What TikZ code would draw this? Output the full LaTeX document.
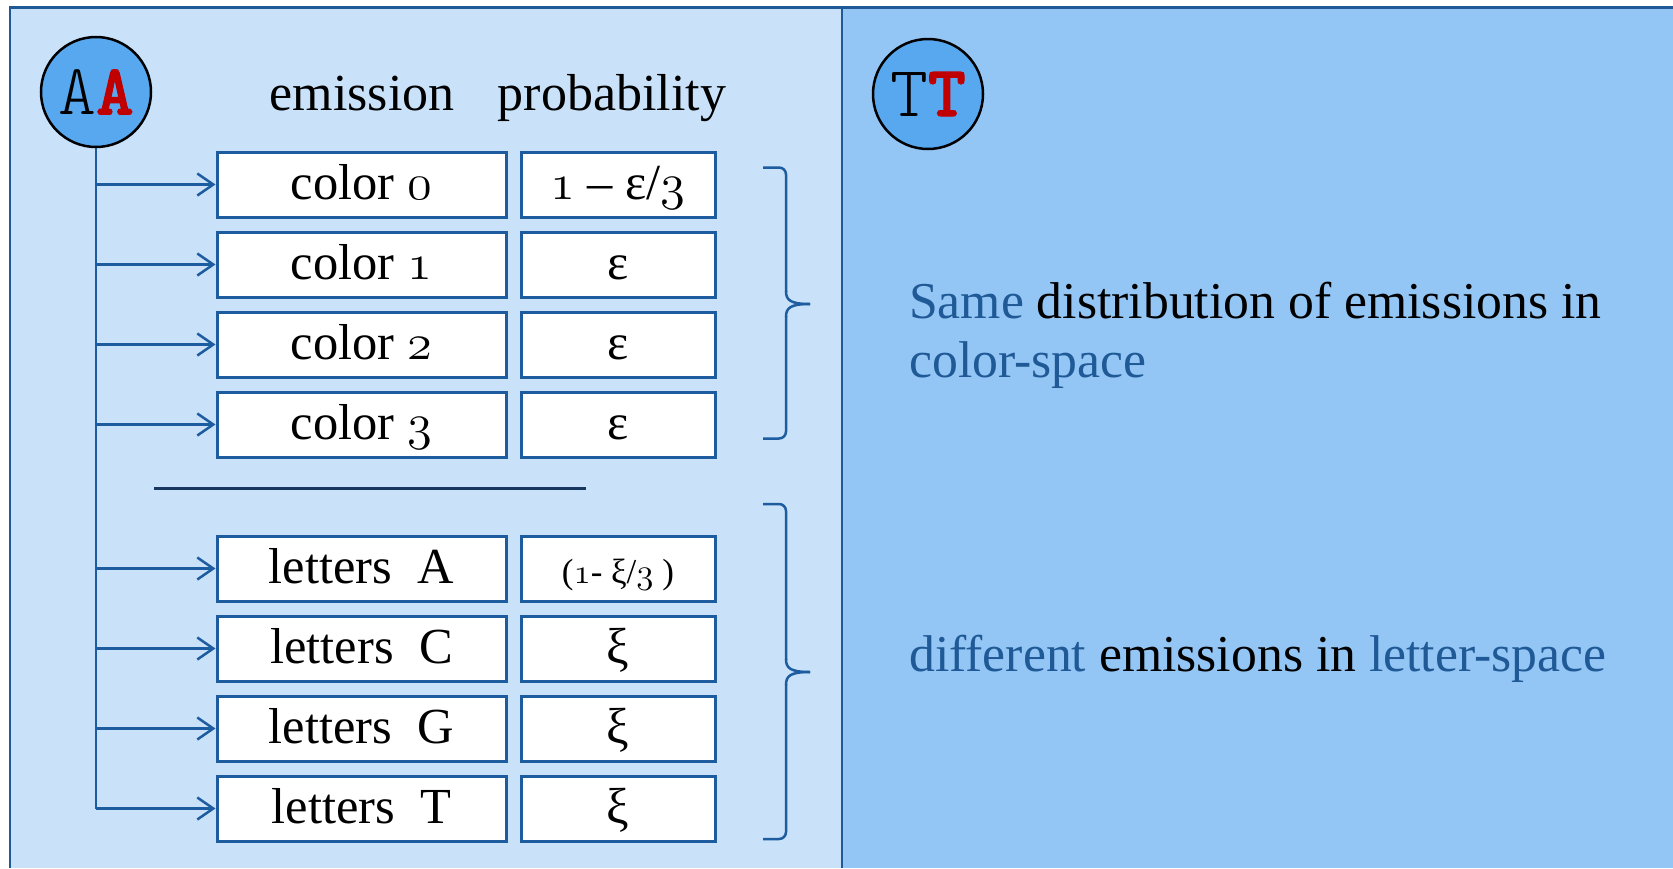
\documentclass[tikz,border=0pt]{standalone}
\usepackage{fix-cm}
\usepackage{fontspec}
\setmainfont{Liberation Serif}
\newfontfamily\aamono{lmmonolt10-regular.otf}
\newfontfamily\aamonob{lmmonolt10-bold.otf}[FakeBold=1.5]
\usetikzlibrary{arrows.meta}
\definecolor{leftbg}{RGB}{201,226,249}
\definecolor{rightbg}{RGB}{147,197,245}
\definecolor{circfill}{RGB}{88,168,240}
\definecolor{framecol}{RGB}{31,90,150}
\definecolor{linecol}{RGB}{30,92,160}
\definecolor{sepcol}{RGB}{23,55,94}
\definecolor{bluetext}{RGB}{31,90,150}
\definecolor{redA}{RGB}{192,0,0}
\tikzset{
  boxtext/.style={font=\fontsize{50.5}{54}\selectfont},
  cell/.style={draw=linecol, line width=3pt, fill=white, minimum height=65pt, inner sep=0pt,
    text height=40pt, text depth=11pt, boxtext},
  ecell/.style={cell, minimum width=289pt},
  pcell/.style={cell, minimum width=194pt},
  statecirc/.style={circle, draw=black, line width=2.5pt, fill=circfill, minimum size=110pt, inner sep=0pt,
    font=\aamono\fontsize{72}{72}\selectfont},
  conn/.style={draw=linecol, line width=2.5pt},
  arr/.style={conn, -{Straight Barb[length=16pt,width=22pt,line width=2.5pt]}},
  bracepath/.style={draw=linecol, line width=2.5pt, rounded corners=7pt},
  head/.style={font=\fontsize{52}{56}\selectfont, anchor=base},
  rtext/.style={font=\fontsize{51.7}{56}\selectfont, anchor=base west, inner sep=0pt},
}
\begin{document}
\begin{tikzpicture}[x=1pt,y=-1pt]
\useasboundingbox (0,0) rectangle (1673,868);
% panels
\fill[leftbg] (10,7.5) rectangle (842,868);
\fill[rightbg] (842,7.5) rectangle (1673,868);
\draw[framecol, line width=2.5pt] (10,868) -- (10,7.5) -- (1673,7.5);
\draw[framecol, line width=2.5pt] (842,7.5) -- (842,868);
% state circles
\node[statecirc] (AA) at (96,92) {A\textcolor{redA}{\aamonob A}};
\node[statecirc] (TT) at (928,94) {T\textcolor{redA}{\aamonob T}};
% headers
\node[head] (h1) at (362,110) {emission};
\node[head] (h2) at (612,110) {probability};
% rows
\node[ecell] (e1) at (361.5,184.5) {color $\mathnormal{0}$};
\node[ecell] (e2) at (361.5,264.5) {color $\mathnormal{1}$};
\node[ecell] (e3) at (361.5,344.5) {color $\mathnormal{2}$};
\node[ecell] (e4) at (361.5,424.5) {color $\mathnormal{3}$};
\node[ecell] (e5) at (361.5,568.5) {letters\ \ A};
\node[ecell] (e6) at (361.5,648.5) {letters\ \ C};
\node[ecell] (e7) at (361.5,728.5) {letters\ \ G};
\node[ecell] (e8) at (361.5,808.5) {letters\ \ T};
\node[pcell] (p1) at (618,184.5) {$\mathnormal{1}$ – ε/$\mathnormal{3}$};
\node[pcell] (p2) at (618,264.5) {ε};
\node[pcell] (p3) at (618,344.5) {ε};
\node[pcell] (p4) at (618,424.5) {ε};
\node[pcell, font=\fontsize{35}{40}\selectfont] (p5) at (618,568.5) {($\mathnormal{1}$- ξ/$\mathnormal{3}$ )};
\node[pcell] (p6) at (618,648.5) {ξ};
\node[pcell] (p7) at (618,728.5) {ξ};
\node[pcell] (p8) at (618,808.5) {ξ};
% connectors
\draw[conn] (AA.south) -- (AA.south |- e8.west);
\foreach \n in {e1,e2,e3,e4,e5,e6,e7,e8}
  \draw[arr] (AA.south |- \n.west) -- (\n.west);
% separator
\draw[sepcol, line width=3pt] (154,488) -- (586,488);
% braces
\draw[bracepath] (763,167.5) -- (786,167.5) -- (786,292);
\draw[linecol, line width=2.5pt] (786,291) .. controls (786,300) and (790,304) .. (810,304);
\draw[linecol, line width=2.5pt] (786,317) .. controls (786,308) and (790,304) .. (810,304);
\draw[bracepath] (786,316) -- (786,438.5) -- (763,438.5);
\draw[bracepath] (763,504) -- (786,504) -- (786,660);
\draw[linecol, line width=2.5pt] (786,659) .. controls (786,668) and (790,672) .. (810,672);
\draw[linecol, line width=2.5pt] (786,685) .. controls (786,676) and (790,672) .. (810,672);
\draw[bracepath] (786,684) -- (786,839) -- (763,839);
% right texts
\node[rtext] (s1) at (909,318) {\textcolor{bluetext}{Same} distribution of emissions in};
\node[rtext] (s2) at (909,377) {\textcolor{bluetext}{color-space}};
\node[rtext] (s3) at (909,671) {\textcolor{bluetext}{different} emissions in \textcolor{bluetext}{letter-space}};
\end{tikzpicture}
\end{document}
